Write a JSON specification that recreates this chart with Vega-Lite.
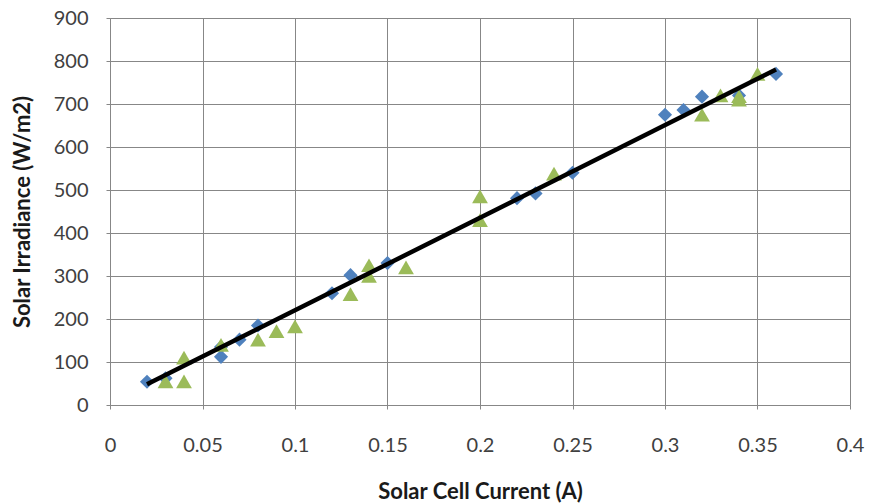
{
  "$schema": "https://vega.github.io/schema/vega-lite/v6.json",
  "width": 740,
  "height": 387,
  "autosize": {"type": "none"},
  "padding": {"left": 110, "top": 18, "right": 19, "bottom": 98},
  "background": "white",
  "config": {
    "view": {"stroke": null},
    "font": "Lato",
    "axis": {
      "gridColor": "#878787",
      "gridWidth": 1,
      "domainColor": "#878787",
      "tickColor": "#878787",
      "tickSize": 4,
      "labelFont": "Lato",
      "labelFontSize": 20,
      "labelColor": "#404040",
      "titleFont": "Lato",
      "titleFontSize": 22,
      "titleFontWeight": "bold",
      "titleColor": "#1a1a1a"
    }
  },
  "datasets": {
    "points": [
      {"current": 0.02, "irradiance": 54, "series": "A"},
      {"current": 0.03, "irradiance": 62, "series": "A"},
      {"current": 0.06, "irradiance": 112, "series": "A"},
      {"current": 0.06, "irradiance": 135, "series": "A"},
      {"current": 0.07, "irradiance": 152, "series": "A"},
      {"current": 0.08, "irradiance": 185, "series": "A"},
      {"current": 0.12, "irradiance": 260, "series": "A"},
      {"current": 0.13, "irradiance": 302, "series": "A"},
      {"current": 0.15, "irradiance": 330, "series": "A"},
      {"current": 0.22, "irradiance": 481, "series": "A"},
      {"current": 0.23, "irradiance": 492, "series": "A"},
      {"current": 0.25, "irradiance": 540, "series": "A"},
      {"current": 0.3, "irradiance": 675, "series": "A"},
      {"current": 0.31, "irradiance": 686, "series": "A"},
      {"current": 0.32, "irradiance": 717, "series": "A"},
      {"current": 0.34, "irradiance": 720, "series": "A"},
      {"current": 0.36, "irradiance": 770, "series": "A"},
      {"current": 0.03, "irradiance": 55, "series": "B"},
      {"current": 0.04, "irradiance": 55, "series": "B"},
      {"current": 0.04, "irradiance": 110, "series": "B"},
      {"current": 0.06, "irradiance": 140, "series": "B"},
      {"current": 0.08, "irradiance": 152, "series": "B"},
      {"current": 0.09, "irradiance": 172, "series": "B"},
      {"current": 0.1, "irradiance": 183, "series": "B"},
      {"current": 0.13, "irradiance": 258, "series": "B"},
      {"current": 0.14, "irradiance": 300, "series": "B"},
      {"current": 0.14, "irradiance": 325, "series": "B"},
      {"current": 0.16, "irradiance": 320, "series": "B"},
      {"current": 0.2, "irradiance": 430, "series": "B"},
      {"current": 0.2, "irradiance": 485, "series": "B"},
      {"current": 0.24, "irradiance": 538, "series": "B"},
      {"current": 0.32, "irradiance": 675, "series": "B"},
      {"current": 0.33, "irradiance": 720, "series": "B"},
      {"current": 0.34, "irradiance": 710, "series": "B"},
      {"current": 0.34, "irradiance": 718, "series": "B"},
      {"current": 0.35, "irradiance": 770, "series": "B"}
    ],
    "trend": [
      {"current": 0.02, "irradiance": 48},
      {"current": 0.36, "irradiance": 780}
    ]
  },
  "layer": [
    {
      "data": {"name": "points"},
      "mark": {"type": "point", "filled": true, "opacity": 1},
      "encoding": {
        "x": {
          "field": "current", "type": "quantitative",
          "scale": {"domain": [0, 0.4], "nice": false},
          "axis": {"values": [0, 0.05, 0.1, 0.15, 0.2, 0.25, 0.3, 0.35, 0.4], "title": "Solar Cell Current (A)", "labelPadding": 26, "titlePadding": 26, "labelFlush": false, "labelExpr": "datum.value === 0 ? '0' : format(datum.value, '.2~f')"}
        },
        "y": {
          "field": "irradiance", "type": "quantitative",
          "scale": {"domain": [0, 900], "nice": false},
          "axis": {"values": [0, 100, 200, 300, 400, 500, 600, 700, 800, 900], "title": "Solar Irradiance (W/m2)", "labelPadding": 18, "titlePadding": 19}
        },
        "color": {"field": "series", "type": "nominal", "scale": {"domain": ["A", "B"], "range": ["#4F81BD", "#9BBB59"]}, "legend": null},
        "shape": {"field": "series", "type": "nominal", "scale": {"domain": ["A", "B"], "range": ["diamond", "triangle-up"]}, "legend": null},
        "size": {"field": "series", "type": "nominal", "scale": {"domain": ["A", "B"], "range": [200, 250]}, "legend": null},
        "order": {"field": "series", "type": "nominal"}
      }
    },
    {
      "data": {"name": "trend"},
      "mark": {"type": "line", "color": "#000000", "strokeWidth": 4.5},
      "encoding": {
        "x": {"field": "current", "type": "quantitative"},
        "y": {"field": "irradiance", "type": "quantitative"}
      }
    }
  ]
}
